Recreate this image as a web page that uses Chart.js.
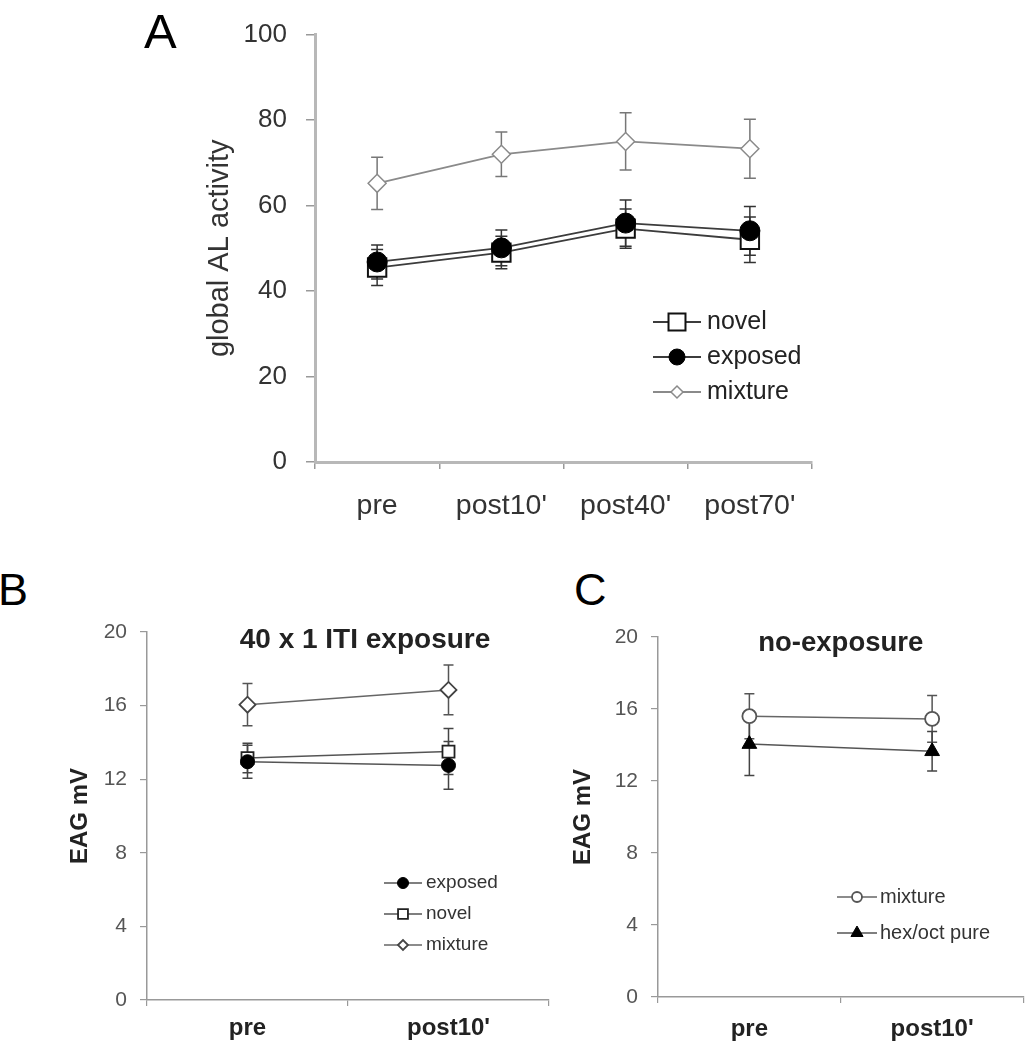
<!DOCTYPE html>
<html><head><meta charset="utf-8">
<script src="https://cdn.jsdelivr.net/npm/chart.js@4.4.1/dist/chart.umd.min.js"></script>
<style>
html,body{margin:0;padding:0;background:#fff;}
body{width:1033px;height:1050px;position:relative;overflow:hidden;font-family:"Liberation Sans",Arial,sans-serif;}
canvas{position:absolute;}
.panel{position:absolute;font-size:45px;line-height:1;color:#000;}
</style></head><body>
<div class="panel" style="left:144px;top:7px;font-size:49px">A</div>
<div class="panel" style="left:-2px;top:567px">B</div>
<div class="panel" style="left:574px;top:567px">C</div>
<canvas id="cA" width="760" height="540" style="left:100px;top:0px"></canvas>
<canvas id="cB" width="740" height="490" style="left:0px;top:560px"></canvas>
<canvas id="cC" width="493" height="490" style="left:540px;top:560px"></canvas>
<script>
// ---------- data ----------
const A_categories = ['pre', "post10'", "post40'", "post70'"];
const A_novel = [45.5, 49.0, 54.6, 52.0];
const A_novel_err = [4.2, 3.8, 4.6, 5.3];
const A_exposed = [46.8, 50.1, 55.9, 54.1];
const A_exposed_err = [4.0, 4.2, 5.4, 5.7];
const A_mixture = [65.2, 72.0, 75.0, 73.3];
const A_mixture_err = [6.1, 5.2, 6.7, 6.9];
const A_yTicks = [0, 20, 40, 60, 80, 100];

const B_categories = ['pre', "post10'"];
const B_exposed = [12.95, 12.75];
const B_exposed_err = [0.9, 1.3];
const B_novel = [13.15, 13.5];
const B_novel_err = [0.8, 1.25];
const B_mixture = [16.05, 16.85];
const B_mixture_err = [1.15, 1.35];

const C_categories = ['pre', "post10'"];
const C_mixture = [15.6, 15.45];
const C_mixture_err = [1.25, 1.3];
const C_hexoct = [14.05, 13.65];
const C_hexoct_err = [1.75, 1.1];
const BC_yTicks = [0, 4, 8, 12, 16, 20];

// ---------- plugins ----------
const FONT = '"Liberation Sans", Arial, sans-serif';
Chart.defaults.font.family = FONT;

const errorBarPlugin = {
  id: 'errorBars',
  beforeDatasetsDraw(chart, args, opts) {
    const ctx = chart.ctx, yScale = chart.scales.y;
    chart.data.datasets.forEach((ds, i) => {
      if (!ds.errors) return;
      const meta = chart.getDatasetMeta(i);
      ctx.save();
      ctx.strokeStyle = ds.errorColor || ds.borderColor;
      ctx.lineWidth = ds.errorWidth || 1.5;
      meta.data.forEach((pt, j) => {
        const v = ds.data[j], e = ds.errors[j];
        const yt = yScale.getPixelForValue(v + e), yb = yScale.getPixelForValue(v - e);
        const x = pt.x, c = opts.cap || 5;
        ctx.beginPath();
        ctx.moveTo(x, yt); ctx.lineTo(x, yb);
        ctx.moveTo(x - c, yt); ctx.lineTo(x + c, yt);
        ctx.moveTo(x - c, yb); ctx.lineTo(x + c, yb);
        ctx.stroke();
      });
      ctx.restore();
    });
  }
};

const inlineLegend = {
  id: 'inlineLegend',
  afterDraw(chart, args, opts) {
    if (!opts || !opts.items) return;
    const ctx = chart.ctx;
    ctx.save();
    opts.items.forEach((idx, row) => {
      const ds = chart.data.datasets[idx];
      const y = opts.y + row * opts.rowHeight;
      ctx.strokeStyle = ds.borderColor;
      ctx.lineWidth = ds.borderWidth;
      ctx.beginPath();
      ctx.moveTo(opts.x - opts.lineHalf, y);
      ctx.lineTo(opts.x + opts.lineHalf, y);
      ctx.stroke();
      ctx.fillStyle = ds.pointBackgroundColor;
      ctx.strokeStyle = ds.pointBorderColor;
      ctx.lineWidth = ds.pointBorderWidth;
      Chart.helpers.drawPoint(ctx, {pointStyle: ds.pointStyle, radius: opts.radius[row], rotation: 0, borderWidth: ds.pointBorderWidth}, opts.x, y);
      ctx.fillStyle = opts.color;
      ctx.font = opts.font;
      ctx.textBaseline = 'middle';
      ctx.textAlign = 'left';
      ctx.fillText(ds.label, opts.textX, y);
    });
    ctx.restore();
  }
};

function yAxis(min, max, step, cfg) {
  return {
    min: min, max: max,
    afterBuildTicks(s) { s.ticks = cfg.ticks.map(v => ({value: v})); },
    ticks: {stepSize: step, color: cfg.tickColor, font: {size: cfg.tickSize}, padding: cfg.tickPad},
    grid: {drawOnChartArea: false, drawTicks: true, tickLength: cfg.tickLen, color: cfg.gridColor, lineWidth: cfg.gridWidth},
    border: {display: true, color: cfg.axisColor, width: cfg.axisWidth},
    title: {display: true, text: cfg.title, color: cfg.titleColor, font: {size: cfg.titleSize, weight: cfg.titleWeight}, padding: {top: cfg.titlePad, bottom: 0}},
    afterFit(s) { s.width = cfg.width; }
  };
}
function xAxis(labels, cfg) {
  return {
    type: 'category', labels: labels, offset: true,
    ticks: {color: cfg.labelColor, font: {size: cfg.labelSize, weight: cfg.labelWeight}, padding: cfg.labelPad, maxRotation: 0, autoSkip: false},
    grid: {display: true, offset: true, drawOnChartArea: false, drawTicks: true, tickLength: cfg.tickLen, color: cfg.gridColor, lineWidth: cfg.gridWidth},
    border: {display: true, color: cfg.axisColor, width: cfg.axisWidth},
    afterFit(s) { s.height = cfg.height; }
  };
}
// empty right-hand spacer scale (no ticks, no lines) so the title centres like the original
function spacer(w) {
  return {position: 'right', display: true, grid: {display: false, drawTicks: false}, border: {display: false},
    ticks: {display: false}, afterFit(s) { s.width = w; }};
}

const common = {
  responsive: false, animation: false, devicePixelRatio: 1, events: [],
};

// ---------- Chart A ----------
new Chart(document.getElementById('cA'), {
  type: 'line',
  data: {
    labels: A_categories,
    datasets: [
      {label: 'novel', data: A_novel, errors: A_novel_err, order: 1,
       borderColor: '#3c3c3c', borderWidth: 1.8, pointStyle: 'rect', pointRadius: 13,
       pointBackgroundColor: '#ffffff', pointBorderColor: '#111', pointBorderWidth: 2, errorColor: '#333'},
      {label: 'exposed', data: A_exposed, errors: A_exposed_err, order: 0,
       borderColor: '#3c3c3c', borderWidth: 1.8, pointStyle: 'circle', pointRadius: 10,
       pointBackgroundColor: '#000', pointBorderColor: '#000', pointBorderWidth: 1, errorColor: '#333'},
      {label: 'mixture', data: A_mixture, errors: A_mixture_err, order: 2,
       borderColor: '#8a8a8a', borderWidth: 1.8, pointStyle: 'rectRot', pointRadius: 9,
       pointBackgroundColor: '#ffffff', pointBorderColor: '#8a8a8a', pointBorderWidth: 1.5, errorColor: '#777'}
    ]
  },
  options: Object.assign({}, common, {
    layout: {padding: {top: 33, right: 48, left: 0, bottom: 0}},
    scales: {
      x: xAxis(A_categories, {labelColor: '#333', labelSize: 28.5, labelWeight: 'normal', labelPad: 20, tickLen: 7,
        gridColor: '#999', gridWidth: 1.5, axisColor: '#b8b8b8', axisWidth: 3, height: 78}),
      y: yAxis(0, 100, 20, {ticks: A_yTicks, tickColor: '#333', tickSize: 26, tickPad: 19, tickLen: 9, gridColor: '#999', gridWidth: 1.5,
        axisColor: '#b8b8b8', axisWidth: 3, title: 'global AL activity', titleColor: '#333', titleSize: 29, titleWeight: 'normal',
        titlePad: 102.6, width: 215})
    },
    plugins: {
      legend: {display: false}, tooltip: {enabled: false}, title: {display: false},
      errorBars: {cap: 6},
      inlineLegend: {items: [0, 1, 2], x: 577, y: 322, rowHeight: 35, lineHalf: 24, textX: 607,
        radius: [12, 8, 6], font: '25px ' + FONT, color: '#222'}
    }
  }),
  plugins: [errorBarPlugin, inlineLegend]
});

// ---------- Chart B ----------
new Chart(document.getElementById('cB'), {
  type: 'line',
  data: {
    labels: B_categories,
    datasets: [
      {label: 'exposed', data: B_exposed, errors: B_exposed_err,
       borderColor: '#555', borderWidth: 1.5, pointStyle: 'circle', pointRadius: 7,
       pointBackgroundColor: '#000', pointBorderColor: '#000', pointBorderWidth: 1, errorColor: '#444'},
      {label: 'novel', data: B_novel, errors: B_novel_err,
       borderColor: '#555', borderWidth: 1.5, pointStyle: 'rect', pointRadius: 8.5,
       pointBackgroundColor: '#fff', pointBorderColor: '#222', pointBorderWidth: 1.8, errorColor: '#444'},
      {label: 'mixture', data: B_mixture, errors: B_mixture_err,
       borderColor: '#666', borderWidth: 1.5, pointStyle: 'rectRot', pointRadius: 8,
       pointBackgroundColor: '#fff', pointBorderColor: '#444', pointBorderWidth: 1.8, errorColor: '#555'}
    ]
  },
  options: Object.assign({}, common, {
    layout: {padding: {top: 0, right: 10, left: 0, bottom: 0}},
    scales: {
      x: xAxis(B_categories, {labelColor: '#222', labelSize: 24, labelWeight: 'bold', labelPad: 8, tickLen: 6,
        gridColor: '#999', gridWidth: 1.2, axisColor: '#999', axisWidth: 1.5, height: 50}),
      y: yAxis(0, 20, 4, {ticks: BC_yTicks, tickColor: '#555', tickSize: 21, tickPad: 13, tickLen: 7, gridColor: '#999', gridWidth: 1.2,
        axisColor: '#999', axisWidth: 1.5, title: 'EAG mV', titleColor: '#222', titleSize: 24, titleWeight: 'bold',
        titlePad: 65.6, width: 147}),
      pad: spacer(181)
    },
    plugins: {
      legend: {display: false}, tooltip: {enabled: false},
      title: {display: true, text: '40 x 1 ITI exposure', fullSize: true, color: '#222',
        font: {size: 28, weight: 'bold'}, padding: {top: 63.2, bottom: -24.8}},
      errorBars: {cap: 5},
      inlineLegend: {items: [0, 1, 2], x: 403, y: 323, rowHeight: 31, lineHalf: 19, textX: 426,
        radius: [5.5, 7, 5], font: '19px ' + FONT, color: '#333'}
    }
  }),
  plugins: [errorBarPlugin, inlineLegend]
});

// ---------- Chart C ----------
new Chart(document.getElementById('cC'), {
  type: 'line',
  data: {
    labels: C_categories,
    datasets: [
      {label: 'mixture', data: C_mixture, errors: C_mixture_err,
       borderColor: '#666', borderWidth: 1.5, pointStyle: 'circle', pointRadius: 7,
       pointBackgroundColor: '#fff', pointBorderColor: '#555', pointBorderWidth: 1.8, errorColor: '#555'},
      {label: 'hex/oct pure', data: C_hexoct, errors: C_hexoct_err,
       borderColor: '#555', borderWidth: 1.5, pointStyle: 'triangle', pointRadius: 8.5,
       pointBackgroundColor: '#000', pointBorderColor: '#000', pointBorderWidth: 1, errorColor: '#444'}
    ]
  },
  options: Object.assign({}, common, {
    layout: {padding: {top: 0, right: 1, left: 0, bottom: 0}},
    scales: {
      x: xAxis(C_categories, {labelColor: '#222', labelSize: 24, labelWeight: 'bold', labelPad: 12, tickLen: 6,
        gridColor: '#999', gridWidth: 1.2, axisColor: '#999', axisWidth: 1.5, height: 53}),
      y: yAxis(0, 20, 4, {ticks: BC_yTicks, tickColor: '#555', tickSize: 21, tickPad: 13, tickLen: 7, gridColor: '#999', gridWidth: 1.2,
        axisColor: '#999', axisWidth: 1.5, title: 'EAG mV', titleColor: '#222', titleSize: 24, titleWeight: 'bold',
        titlePad: 28.6, width: 118})
    },
    plugins: {
      legend: {display: false}, tooltip: {enabled: false},
      title: {display: true, text: 'no-exposure', fullSize: false, color: '#222',
        font: {size: 27.5, weight: 'bold'}, padding: {top: 66.5, bottom: -22.5}},
      errorBars: {cap: 5},
      inlineLegend: {items: [0, 1], x: 317, y: 337, rowHeight: 36, lineHalf: 20, textX: 340,
        radius: [5, 7], font: '20px ' + FONT, color: '#333'}
    }
  }),
  plugins: [errorBarPlugin, inlineLegend]
});
</script>
</body></html>
